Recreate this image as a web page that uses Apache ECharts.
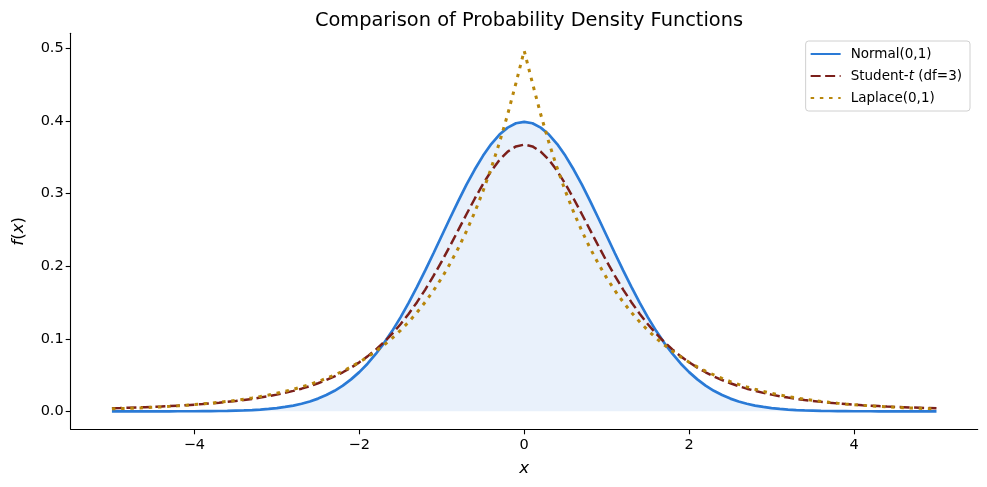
<!DOCTYPE html>
<html>
<head>
<meta charset="utf-8">
<title>Comparison of Probability Density Functions</title>
<script src="https://cdn.jsdelivr.net/npm/echarts@6/dist/echarts.min.js"></script>
<style>
  html, body { margin: 0; padding: 0; background: #ffffff; }
  #chart { width: 987px; height: 487px; }
</style>
</head>
<body>
<div id="chart"></div>
<script>
// x grid, step 0.1 from -5 to 5
const xValues = [
  -5.0, -4.9, -4.8, -4.7, -4.6, -4.5, -4.4, -4.3, -4.2, -4.1,
  -4.0, -3.9, -3.8, -3.7, -3.6, -3.5, -3.4, -3.3, -3.2, -3.1,
  -3.0, -2.9, -2.8, -2.7, -2.6, -2.5, -2.4, -2.3, -2.2, -2.1,
  -2.0, -1.9, -1.8, -1.7, -1.6, -1.5, -1.4, -1.3, -1.2, -1.1,
  -1.0, -0.9, -0.8, -0.7, -0.6, -0.5, -0.4, -0.3, -0.2, -0.1,
  0.0,
  0.1, 0.2, 0.3, 0.4, 0.5, 0.6, 0.7, 0.8, 0.9, 1.0,
  1.1, 1.2, 1.3, 1.4, 1.5, 1.6, 1.7, 1.8, 1.9, 2.0,
  2.1, 2.2, 2.3, 2.4, 2.5, 2.6, 2.7, 2.8, 2.9, 3.0,
  3.1, 3.2, 3.3, 3.4, 3.5, 3.6, 3.7, 3.8, 3.9, 4.0,
  4.1, 4.2, 4.3, 4.4, 4.5, 4.6, 4.7, 4.8, 4.9, 5.0];

const normalValues = [
  0.0000, 0.0000, 0.0000, 0.0000, 0.0000, 0.0000, 0.0000, 0.0000, 0.0001, 0.0001,
  0.0001, 0.0002, 0.0003, 0.0004, 0.0006, 0.0009, 0.0012, 0.0017, 0.0024, 0.0033,
  0.0044, 0.0060, 0.0079, 0.0104, 0.0136, 0.0175, 0.0224, 0.0283, 0.0355, 0.0440,
  0.0540, 0.0656, 0.0790, 0.0940, 0.1109, 0.1295, 0.1497, 0.1714, 0.1942, 0.2179,
  0.2420, 0.2661, 0.2897, 0.3123, 0.3332, 0.3521, 0.3683, 0.3814, 0.3910, 0.3970,
  0.3989,
  0.3970, 0.3910, 0.3814, 0.3683, 0.3521, 0.3332, 0.3123, 0.2897, 0.2661, 0.2420,
  0.2179, 0.1942, 0.1714, 0.1497, 0.1295, 0.1109, 0.0940, 0.0790, 0.0656, 0.0540,
  0.0440, 0.0355, 0.0283, 0.0224, 0.0175, 0.0136, 0.0104, 0.0079, 0.0060, 0.0044,
  0.0033, 0.0024, 0.0017, 0.0012, 0.0009, 0.0006, 0.0004, 0.0003, 0.0002, 0.0001,
  0.0001, 0.0001, 0.0000, 0.0000, 0.0000, 0.0000, 0.0000, 0.0000, 0.0000, 0.0000];

const studentValues = [
  0.0042, 0.0045, 0.0049, 0.0053, 0.0057, 0.0061, 0.0066, 0.0072, 0.0078, 0.0084,
  0.0092, 0.0100, 0.0109, 0.0119, 0.0130, 0.0142, 0.0156, 0.0171, 0.0189, 0.0208,
  0.0230, 0.0254, 0.0282, 0.0312, 0.0347, 0.0387, 0.0431, 0.0481, 0.0538, 0.0602,
  0.0675, 0.0757, 0.0850, 0.0954, 0.1070, 0.1200, 0.1345, 0.1504, 0.1678, 0.1866,
  0.2067, 0.2279, 0.2497, 0.2716, 0.2930, 0.3132, 0.3313, 0.3465, 0.3579, 0.3651,
  0.3676,
  0.3651, 0.3579, 0.3465, 0.3313, 0.3132, 0.2930, 0.2716, 0.2497, 0.2279, 0.2067,
  0.1866, 0.1678, 0.1504, 0.1345, 0.1200, 0.1070, 0.0954, 0.0850, 0.0757, 0.0675,
  0.0602, 0.0538, 0.0481, 0.0431, 0.0387, 0.0347, 0.0312, 0.0282, 0.0254, 0.0230,
  0.0208, 0.0189, 0.0171, 0.0156, 0.0142, 0.0130, 0.0119, 0.0109, 0.0100, 0.0092,
  0.0084, 0.0078, 0.0072, 0.0066, 0.0061, 0.0057, 0.0053, 0.0049, 0.0045, 0.0042];

const laplaceValues = [
  0.0034, 0.0037, 0.0041, 0.0045, 0.0050, 0.0056, 0.0061, 0.0068, 0.0075, 0.0083,
  0.0092, 0.0101, 0.0112, 0.0124, 0.0137, 0.0151, 0.0167, 0.0184, 0.0204, 0.0225,
  0.0249, 0.0275, 0.0304, 0.0336, 0.0371, 0.0410, 0.0454, 0.0501, 0.0554, 0.0612,
  0.0677, 0.0748, 0.0827, 0.0913, 0.1009, 0.1116, 0.1233, 0.1363, 0.1506, 0.1664,
  0.1839, 0.2033, 0.2247, 0.2483, 0.2744, 0.3033, 0.3352, 0.3704, 0.4094, 0.4524,
  0.4970,
  0.4524, 0.4094, 0.3704, 0.3352, 0.3033, 0.2744, 0.2483, 0.2247, 0.2033, 0.1839,
  0.1664, 0.1506, 0.1363, 0.1233, 0.1116, 0.1009, 0.0913, 0.0827, 0.0748, 0.0677,
  0.0612, 0.0554, 0.0501, 0.0454, 0.0410, 0.0371, 0.0336, 0.0304, 0.0275, 0.0249,
  0.0225, 0.0204, 0.0184, 0.0167, 0.0151, 0.0137, 0.0124, 0.0112, 0.0101, 0.0092,
  0.0083, 0.0075, 0.0068, 0.0061, 0.0056, 0.0050, 0.0045, 0.0041, 0.0037, 0.0034];

const xTicks = [-4, -2, 0, 2, 4];
const yTicks = [0.0, 0.1, 0.2, 0.3, 0.4, 0.5];

const FONT = 'DejaVu Sans';

const pairs = (ys) => xValues.map((x, i) => [x, ys[i]]);
const minus = (v) => (v < 0 ? '\u2212' + Math.abs(v) : String(v));

const chart = echarts.init(document.getElementById('chart'), null, { renderer: 'canvas' });

const option = {
    backgroundColor: '#ffffff',
    animation: false,
    title: {
        text: 'Comparison of Probability Density Functions',
        left: 524,
        top: 6,
        textAlign: 'center',
        textStyle: {
            fontFamily: FONT,
            fontWeight: 'normal',
            fontSize: 19.4,
            color: '#000000'
        }
    },
    legend: {
        orient: 'vertical',
        right: 17,
        top: 41,
        padding: [6, 8, 6, 4],
        itemGap: 8,
        itemWidth: 30,
        itemHeight: 13,
        borderColor: '#d0d0d0',
        borderWidth: 1,
        borderRadius: 3,
        backgroundColor: 'rgba(255,255,255,0.8)',
        itemStyle: { opacity: 0 },
        data: ['Normal(0,1)', 'Student-t (df=3)', 'Laplace(0,1)'],
        formatter: (name) => name === 'Student-t (df=3)' ? 'Student-{i|t} (df=3)' : name,
        textStyle: {
            fontFamily: FONT,
            fontSize: 13.5,
            color: '#000000',
            padding: [0, 0, 0, 5],
            rich: {
                i: { fontFamily: FONT, fontSize: 13.5, fontStyle: 'italic', color: '#000000' }
            }
        }
    },
    grid: {
        left: 70.7,
        right: 9.3,
        top: 33.3,
        bottom: 57.7
    },
    xAxis: {
        type: 'value',
        min: -5.5,
        max: 5.5,
        name: '{i|x}',
        nameLocation: 'middle',
        nameGap: 31,
        nameTextStyle: {
            fontFamily: FONT,
            fontSize: 16.7,
            color: '#000000',
            rich: { i: { fontFamily: FONT, fontSize: 16.7, fontStyle: 'italic', color: '#000000' } }
        },
        axisLine: { show: true, onZero: false, lineStyle: { color: '#000000', width: 1.1 } },
        axisTick: { show: true, inside: false, length: 5, customValues: xTicks, lineStyle: { color: '#000000', width: 1.1 } },
        axisLabel: {
            customValues: xTicks,
            formatter: minus,
            fontFamily: FONT,
            fontSize: 14.5,
            color: '#000000',
            margin: 8
        },
        splitLine: { show: false }
    },
    yAxis: {
        type: 'value',
        min: -0.0248,
        max: 0.521,
        name: '{i|f}({i|x})',
        nameLocation: 'middle',
        nameGap: 44,
        nameTextStyle: {
            fontFamily: FONT,
            fontSize: 16.7,
            color: '#000000',
            rich: { i: { fontFamily: FONT, fontSize: 16.7, fontStyle: 'italic', color: '#000000' } }
        },
        axisLine: { show: true, onZero: false, lineStyle: { color: '#000000', width: 1.1 } },
        axisTick: { show: true, inside: false, length: 5, customValues: yTicks, lineStyle: { color: '#000000', width: 1.1 } },
        axisLabel: {
            customValues: yTicks,
            formatter: (v) => v.toFixed(1),
            fontFamily: FONT,
            fontSize: 14.5,
            color: '#000000',
            margin: 7
        },
        splitLine: { show: false }
    },
    series: [{
        name: 'Normal(0,1)',
        type: 'line',
        data: pairs(normalValues),
        symbol: 'none',
        lineStyle: { color: '#2a7ad6', width: 2.7 },
        itemStyle: { color: '#2a7ad6' },
        areaStyle: { color: 'rgba(42,122,214,0.1)', opacity: 1, origin: 0 },
        z: 2
    }, {
        name: 'Student-t (df=3)',
        type: 'line',
        data: pairs(studentValues),
        symbol: 'none',
        lineStyle: { color: '#7b1f1a', width: 2.5, type: [10, 4.5], cap: 'butt' },
        itemStyle: { color: '#7b1f1a' },
        z: 3
    }, {
        name: 'Laplace(0,1)',
        type: 'line',
        data: pairs(laplaceValues),
        symbol: 'none',
        lineStyle: { color: '#b8860b', width: 3, type: [3.5, 5.7], cap: 'butt' },
        itemStyle: { color: '#b8860b' },
        z: 4
    }]
};

chart.setOption(option);
</script>
</body>
</html>
